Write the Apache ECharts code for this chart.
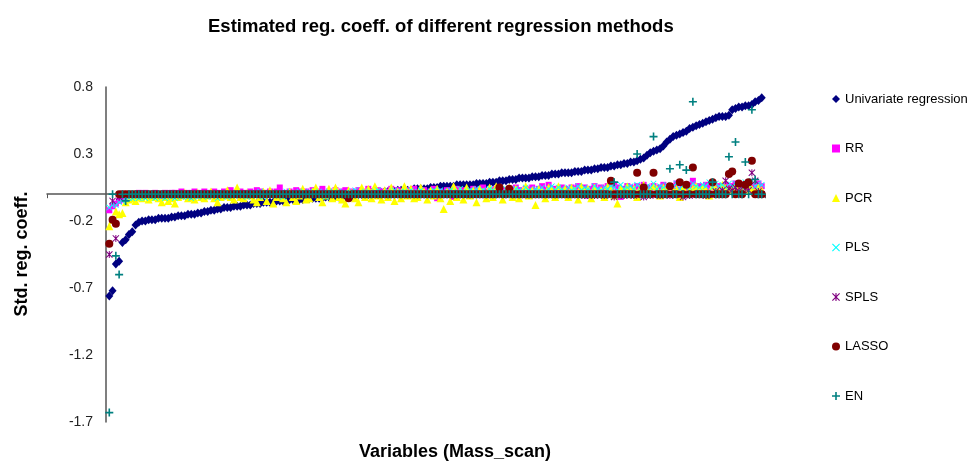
<!DOCTYPE html>
<html>
<head>
<meta charset="utf-8">
<script src="https://cdn.jsdelivr.net/npm/echarts@6/dist/echarts.min.js"></script>
<style>html,body{margin:0;padding:0;background:#fff}#c{width:973px;height:461px}</style>
</head>
<body>
<div id="c"></div>
<script>
// Variable index (sorted by univariate coefficient)
const variables = [];
for (let i = 1; i <= 200; i++) variables.push(i);

const yTicks = [-1.7, -1.2, -0.7, -0.2, 0.3, 0.8];

const univariate = [
-0.76,-0.72,-0.52,-0.50,-0.36,-0.34,-0.30,-0.28,-0.23,-0.21,
-0.20,-0.20,-0.19,-0.19,-0.19,-0.18,-0.18,-0.18,-0.18,-0.17,
-0.17,-0.16,-0.16,-0.16,-0.15,-0.15,-0.15,-0.14,-0.14,-0.13,
-0.13,-0.12,-0.12,-0.11,-0.11,-0.10,-0.10,-0.10,-0.09,-0.09,
-0.09,-0.08,-0.08,-0.08,-0.07,-0.07,-0.07,-0.06,-0.06,-0.06,
-0.06,-0.05,-0.05,-0.05,-0.05,-0.04,-0.04,-0.04,-0.04,-0.04,
-0.03,-0.03,-0.03,-0.03,-0.03,-0.03,-0.02,-0.02,-0.02,-0.02,
-0.02,-0.02,-0.01,-0.01,-0.01,-0.01,0.00,0.00,0.00,0.00,
0.01,0.01,0.01,0.01,0.02,0.02,0.02,0.02,0.03,0.03,
0.03,0.03,0.03,0.04,0.04,0.04,0.04,0.04,0.05,0.05,
0.05,0.06,0.06,0.06,0.06,0.06,0.07,0.07,0.07,0.07,
0.07,0.07,0.08,0.08,0.08,0.08,0.09,0.09,0.09,0.10,
0.10,0.10,0.11,0.11,0.11,0.12,0.12,0.12,0.12,0.13,
0.13,0.13,0.14,0.14,0.14,0.15,0.15,0.15,0.16,0.16,
0.16,0.16,0.17,0.17,0.17,0.18,0.18,0.18,0.19,0.19,
0.20,0.20,0.20,0.21,0.21,0.22,0.22,0.23,0.23,0.24,
0.24,0.25,0.26,0.27,0.29,0.31,0.32,0.33,0.34,0.36,
0.39,0.41,0.43,0.44,0.45,0.46,0.47,0.49,0.50,0.51,
0.52,0.53,0.54,0.55,0.56,0.57,0.58,0.58,0.58,0.59,
0.63,0.64,0.65,0.65,0.66,0.66,0.67,0.69,0.70,0.72
];

const rr = [
-0.12,-0.09,-0.07,-0.05,-0.04,-0.02,-0.01,0.00,-0.01,0.01,
0.00,0.01,-0.01,0.00,0.01,0.00,-0.01,0.01,0.00,0.01,
0.01,0.00,0.02,0.01,0.00,0.01,0.02,0.00,0.01,0.02,
0.00,0.01,0.02,0.01,-0.01,0.02,0.01,0.03,0.00,0.01,
0.02,0.01,0.00,0.02,0.01,0.03,0.02,0.00,0.01,0.02,
0.01,0.02,0.05,0.01,0.00,0.02,0.01,0.03,0.02,0.01,
0.02,0.00,0.03,0.01,0.02,0.04,0.01,0.02,0.00,0.03,
0.01,0.02,0.03,0.01,0.02,0.00,0.03,0.02,0.01,0.04,
0.02,0.01,0.03,0.02,0.00,0.02,0.04,0.01,0.03,0.02,
0.01,0.03,0.02,0.04,0.01,0.02,0.03,0.01,0.02,0.04,
-0.03,0.02,0.01,0.03,0.02,-0.02,0.04,0.01,0.03,0.02,
0.01,0.04,0.02,0.03,0.05,0.02,0.01,0.03,0.04,0.02,
0.03,0.01,0.04,0.02,0.05,0.03,0.02,0.04,0.03,0.05,
0.02,0.04,0.06,0.03,0.07,0.02,0.04,0.03,0.05,0.04,
0.03,0.05,0.04,0.06,0.02,0.05,-0.01,0.04,0.06,0.03,
0.05,0.04,0.06,0.03,0.07,0.05,-0.02,0.04,0.06,0.05,
0.03,0.06,0.04,0.07,0.05,0.03,0.06,0.04,0.05,0.07,
0.04,0.06,0.05,0.08,0.03,0.06,0.04,0.07,0.10,0.05,
0.06,0.04,0.07,0.05,0.08,0.03,0.06,0.05,0.07,0.04,
0.06,0.08,0.05,0.07,0.04,0.09,0.06,0.05,0.08,0.06
];

const pcr = [
-0.24,-0.19,-0.13,-0.15,-0.14,-0.06,-0.04,-0.03,-0.05,-0.02,
-0.03,-0.01,-0.04,-0.02,-0.01,-0.03,-0.06,-0.02,-0.05,-0.03,
-0.07,-0.02,-0.01,0.01,-0.03,-0.02,-0.04,0.01,-0.02,-0.03,
-0.01,0.02,-0.03,-0.06,-0.02,-0.01,0.03,-0.02,-0.04,0.05,
-0.02,-0.03,0.01,-0.01,-0.04,-0.06,-0.02,0.02,-0.05,0.03,
-0.07,-0.02,-0.01,-0.03,-0.06,0.02,-0.02,-0.05,-0.01,0.04,
-0.04,-0.03,0.02,0.05,-0.02,-0.06,-0.01,0.04,-0.03,0.05,
-0.02,-0.04,-0.07,0.03,0.01,-0.03,-0.06,0.05,-0.02,0.04,
-0.03,0.06,-0.01,-0.04,0.03,-0.02,0.05,-0.05,0.02,-0.03,
0.06,-0.01,0.04,-0.03,-0.02,0.05,0.02,-0.04,0.03,-0.01,
0.04,-0.03,-0.11,0.02,-0.05,0.06,-0.02,0.03,-0.04,0.05,
-0.01,0.03,-0.06,0.04,0.02,-0.03,0.05,-0.02,0.06,0.01,
-0.04,0.03,0.05,-0.02,0.04,-0.03,0.02,0.06,-0.01,0.03,
-0.08,0.04,0.02,-0.03,0.05,0.03,-0.02,0.06,0.01,0.04,
-0.02,0.05,0.03,-0.04,0.06,0.02,0.04,-0.03,0.05,0.01,
0.03,-0.02,0.06,0.04,-0.01,-0.07,0.05,0.02,0.06,0.03,
0.04,-0.02,0.05,0.07,0.03,0.02,0.06,0.04,-0.01,0.05,
0.03,0.06,0.02,0.04,-0.02,0.05,0.07,0.03,0.04,0.06,
0.02,0.05,0.03,-0.01,0.06,0.04,0.02,0.07,0.05,0.03,
0.04,0.06,0.02,0.05,0.03,0.07,0.04,0.02,0.05,0.03
];

const pls = [
-0.10,-0.08,-0.08,-0.06,-0.05,-0.04,-0.03,-0.03,-0.02,-0.03,
-0.02,-0.03,-0.01,-0.02,-0.03,-0.01,-0.02,-0.03,-0.01,-0.02,
-0.03,-0.01,-0.02,0.00,-0.02,-0.03,-0.01,-0.02,0.00,-0.01,
-0.02,-0.01,0.00,-0.03,-0.01,0.01,-0.02,0.00,-0.01,0.01,
-0.01,0.00,-0.02,0.01,0.00,-0.01,0.02,-0.02,0.00,0.01,
0.00,-0.01,0.01,-0.02,0.02,0.00,-0.01,0.01,0.02,-0.01,
0.01,0.02,-0.01,0.00,0.02,0.01,-0.02,0.02,0.01,0.00,
0.02,0.00,0.01,-0.01,0.02,0.03,0.00,0.01,0.02,-0.01,
0.01,0.02,0.03,0.00,0.01,0.02,-0.01,0.03,0.01,0.02,
0.02,0.00,0.03,0.01,0.02,0.03,0.01,-0.01,0.02,0.03,
0.01,0.03,0.02,0.00,0.03,0.02,0.01,0.04,0.02,0.01,
0.03,0.02,0.04,0.01,0.03,0.02,0.04,0.03,0.01,0.03,
0.02,0.04,0.03,0.01,0.04,0.03,0.02,0.05,0.03,0.02,
0.04,0.03,0.05,0.02,0.04,0.06,0.03,0.05,0.04,0.02,
0.05,0.03,0.04,0.06,0.03,0.05,0.04,0.02,0.06,0.04,
0.03,0.05,0.04,0.06,0.05,0.03,0.07,0.04,0.05,0.06,
0.04,0.07,0.05,0.03,0.06,0.05,0.08,0.04,0.06,0.05,
0.07,0.05,0.06,0.08,0.04,0.07,0.06,0.05,0.08,0.06,
0.05,0.07,0.06,0.09,0.05,0.08,0.06,0.07,0.05,0.08,
0.06,0.08,0.07,0.05,0.09,0.07,0.10,0.06,0.08,0.07
];

const spls = [
-0.45,-0.05,-0.33,-0.02,0,0,0,0,0,0,
0,0,0,0,0,0,0,0,0,0,
0,0,0,0,0,0,0,0,0,0,
0,0,0,0,0,0,0,0,0,0,
0,0,0,0,0,0,0,0,0,0,
0,0,0,0,0,0,0,0,0,0,
0,0,0,0,0,0,0,0,0,0,
0,0,0,0,0,0,0,0,0,0,
0,0,0,0,0,0,0,0,0,0,
0,0,0,0,0,0,0,0,0,0,
0,0,0,0,0,0,0,0,0,0,
0,0,0,0,0,0,0,0,0,0,
0,0,0,0,0,0,0,0,0,0,
0,0,0,0,0,0,0,0,0,0,
0,0,0,0,0,-0.01,0,0,-0.01,0,
0,-0.01,0,0,-0.02,0,0,-0.01,0,0,
-0.01,0,0,-0.02,0,-0.01,0,0,-0.01,0,
0,-0.01,0,0,0,-0.02,0,-0.01,0,0,
0,0,-0.01,0,0,0.02,0,0.03,0.10,0.04,
0.03,0.05,0.02,0.06,0.04,0.03,0.16,0.10,0.02,0
];

const lasso = [
-0.37,-0.19,-0.22,0,0,0,0,0,0,0,
0,0,0,0,0,0,0,0,0,0,
0,0,0,0,0,0,0,0,0,0,
0,0,0,0,0,0,0,0,0,0,
0,0,0,0,0,0,0,0,0,0,
0,0,0,0,0,0,0,0,0,0,
0,0,0,0,0,0,0,0,0,0,
0,0,0,-0.03,0,0,0,0,0,0,
0,0,0,0,0,0,0,0,0,0,
0,0,0,0,0,0,0,0,0,0,
0,0,0,0,0,0,0,0,0,0,
0,0,0,0,0,0,0,0,0,0.05,
0,0,0.04,0,0,0,0,0,0,0,
0,0,0,0,0,0,0,0,0,0,
0,0,0,0,0,0,0,0,0,0,
0,0,0,0.10,0,0,0,0,0,0,
0,0.16,0,0.05,0,0,0.16,0,0,0,
0,0.06,0,0,0.09,0,0.07,0,0.20,0,
0,0,0,0,0.09,0,0,0,0,0.15,
0.17,0,0.08,0,0.07,0.09,0.25,0,0,0
];

const en = [
-1.63,0,-0.46,-0.60,0,-0.05,0,0,0,0,
0,0,0,0,0,0,0,0,0,0,
0,0,0,0,0,0,0,0,0,0,
0,0,0,0,0,0,0,0,0,0,
0,0,0,0,0,0,0,0,0,0,
0,0,0,0,0,0,0,0,0,0,
0,0,0,0,0,0,0,0,0,0,
0,0,0,0,0,0,0,0,0,0,
0,0,0,0,0,0,0,0,0,0,
0,0,0,0,0,0,0,0,0,0,
0,0,0,0,0,0,0,0,0,0,
0,0,0,0,0,0,0,0,0,0,
0,0,0,0,0,0,0,0,0,0,
0,0,0,0,0,0,0,0,0,0,
0,0,0,0,0,0,0,0,0,0,
0,0,0,0,0.09,0,0,0,0,0,
0,0.30,0,0,0,0,0.43,0,0,0,
0,0.19,0,0,0.22,0,0.18,0,0.69,0,
0,0,0,0,0.09,0,0,0,0,0.28,
0,0.39,0,0,0.24,0,0.63,0.11,0,0
];

const X_PATH = 'path://M0,1L1,0L5,4L9,0L10,1L6,5L10,9L9,10L5,6L1,10L0,9L4,5Z';
const PLUS_PATH = 'path://M4,0H6V4H10V6H6V10H4V6H0V4H4Z';
const STAR_PATH = 'path://M0,1L1,0L5,4L9,0L10,1L6,5L10,9L9,10L5,6L1,10L0,9L4,5Z M4.3,0H5.7V10H4.3Z';

const seriesDefs = [
  {name: 'Univariate regression', data: univariate, color: '#000080', symbol: 'diamond', size: [8, 9]},
  {name: 'RR', data: rr, color: '#FF00FF', symbol: 'rect', size: 6},
  {name: 'PCR', data: pcr, color: '#FFFF00', symbol: 'triangle', size: 8},
  {name: 'PLS', data: pls, color: '#00FFFF', symbol: X_PATH, size: 6},
  {name: 'SPLS', data: spls, color: '#800080', symbol: STAR_PATH, size: 7},
  {name: 'LASSO', data: lasso, color: '#800000', symbol: 'circle', size: 8},
  {name: 'EN', data: en, color: '#008080', symbol: PLUS_PATH, size: 8}
];

const chart = echarts.init(document.getElementById('c'), null, {renderer: 'canvas'});
const FONT = 'Arial, "Liberation Sans", sans-serif';

chart.setOption({
  animation: false,
  backgroundColor: '#ffffff',
  title: {
    text: 'Estimated reg. coeff. of different regression methods',
    left: 203, top: 12,
    textStyle: {fontFamily: FONT, fontSize: 18.5, fontWeight: 'bold', color: '#000'}
  },
  legend: {
    orient: 'vertical',
    left: 832, top: 92,
    padding: 0,
    itemWidth: 8, itemHeight: 8,
    itemGap: 35.5,
    textStyle: {fontFamily: FONT, fontSize: 13, color: '#000', lineHeight: 14},
    data: seriesDefs.map(s => s.name)
  },
  grid: {left: 47, right: 208, top: 87, bottom: 39, containLabel: false},
  xAxis: {
    type: 'value', min: -18, max: 201,
    axisLine: {show: true, onZero: true, lineStyle: {color: '#555', width: 1.5}},
    axisTick: {show: true, customValues: [-18, 176.6, 201], length: 4, lineStyle: {color: '#555'}},
    axisLabel: {show: false},
    splitLine: {show: false}
  },
  yAxis: {
    type: 'value', min: yTicks[0], max: yTicks[yTicks.length - 1], interval: 0.5,
    offset: -59,
    axisLine: {show: true, onZero: false, lineStyle: {color: '#555', width: 1.5}},
    axisTick: {show: false},
    axisLabel: {fontFamily: FONT, fontSize: 14, color: '#222', margin: 13,
      customValues: yTicks, formatter: v => (Math.round(v * 10) / 10).toFixed(1)},
    splitLine: {show: false}
  },
  graphic: [
    {type: 'text', x: 22, y: 254, rotation: Math.PI / 2,
      style: {text: 'Std. reg. coeff.', font: 'bold 18px ' + FONT, fill: '#000', align: 'center', verticalAlign: 'middle'}},
    {type: 'text', x: 455, y: 452,
      style: {text: 'Variables (Mass_scan)', font: 'bold 18px ' + FONT, fill: '#000', align: 'center', verticalAlign: 'middle'}}
  ],
  series: seriesDefs.map(s => ({
    name: s.name,
    type: 'scatter',
    symbol: s.symbol,
    symbolSize: s.size,
    itemStyle: {color: s.color, opacity: 1},
    emphasis: {disabled: true},
    data: s.data.map((v, i) => [variables[i], v])
  }))
});
</script>
</body>
</html>
